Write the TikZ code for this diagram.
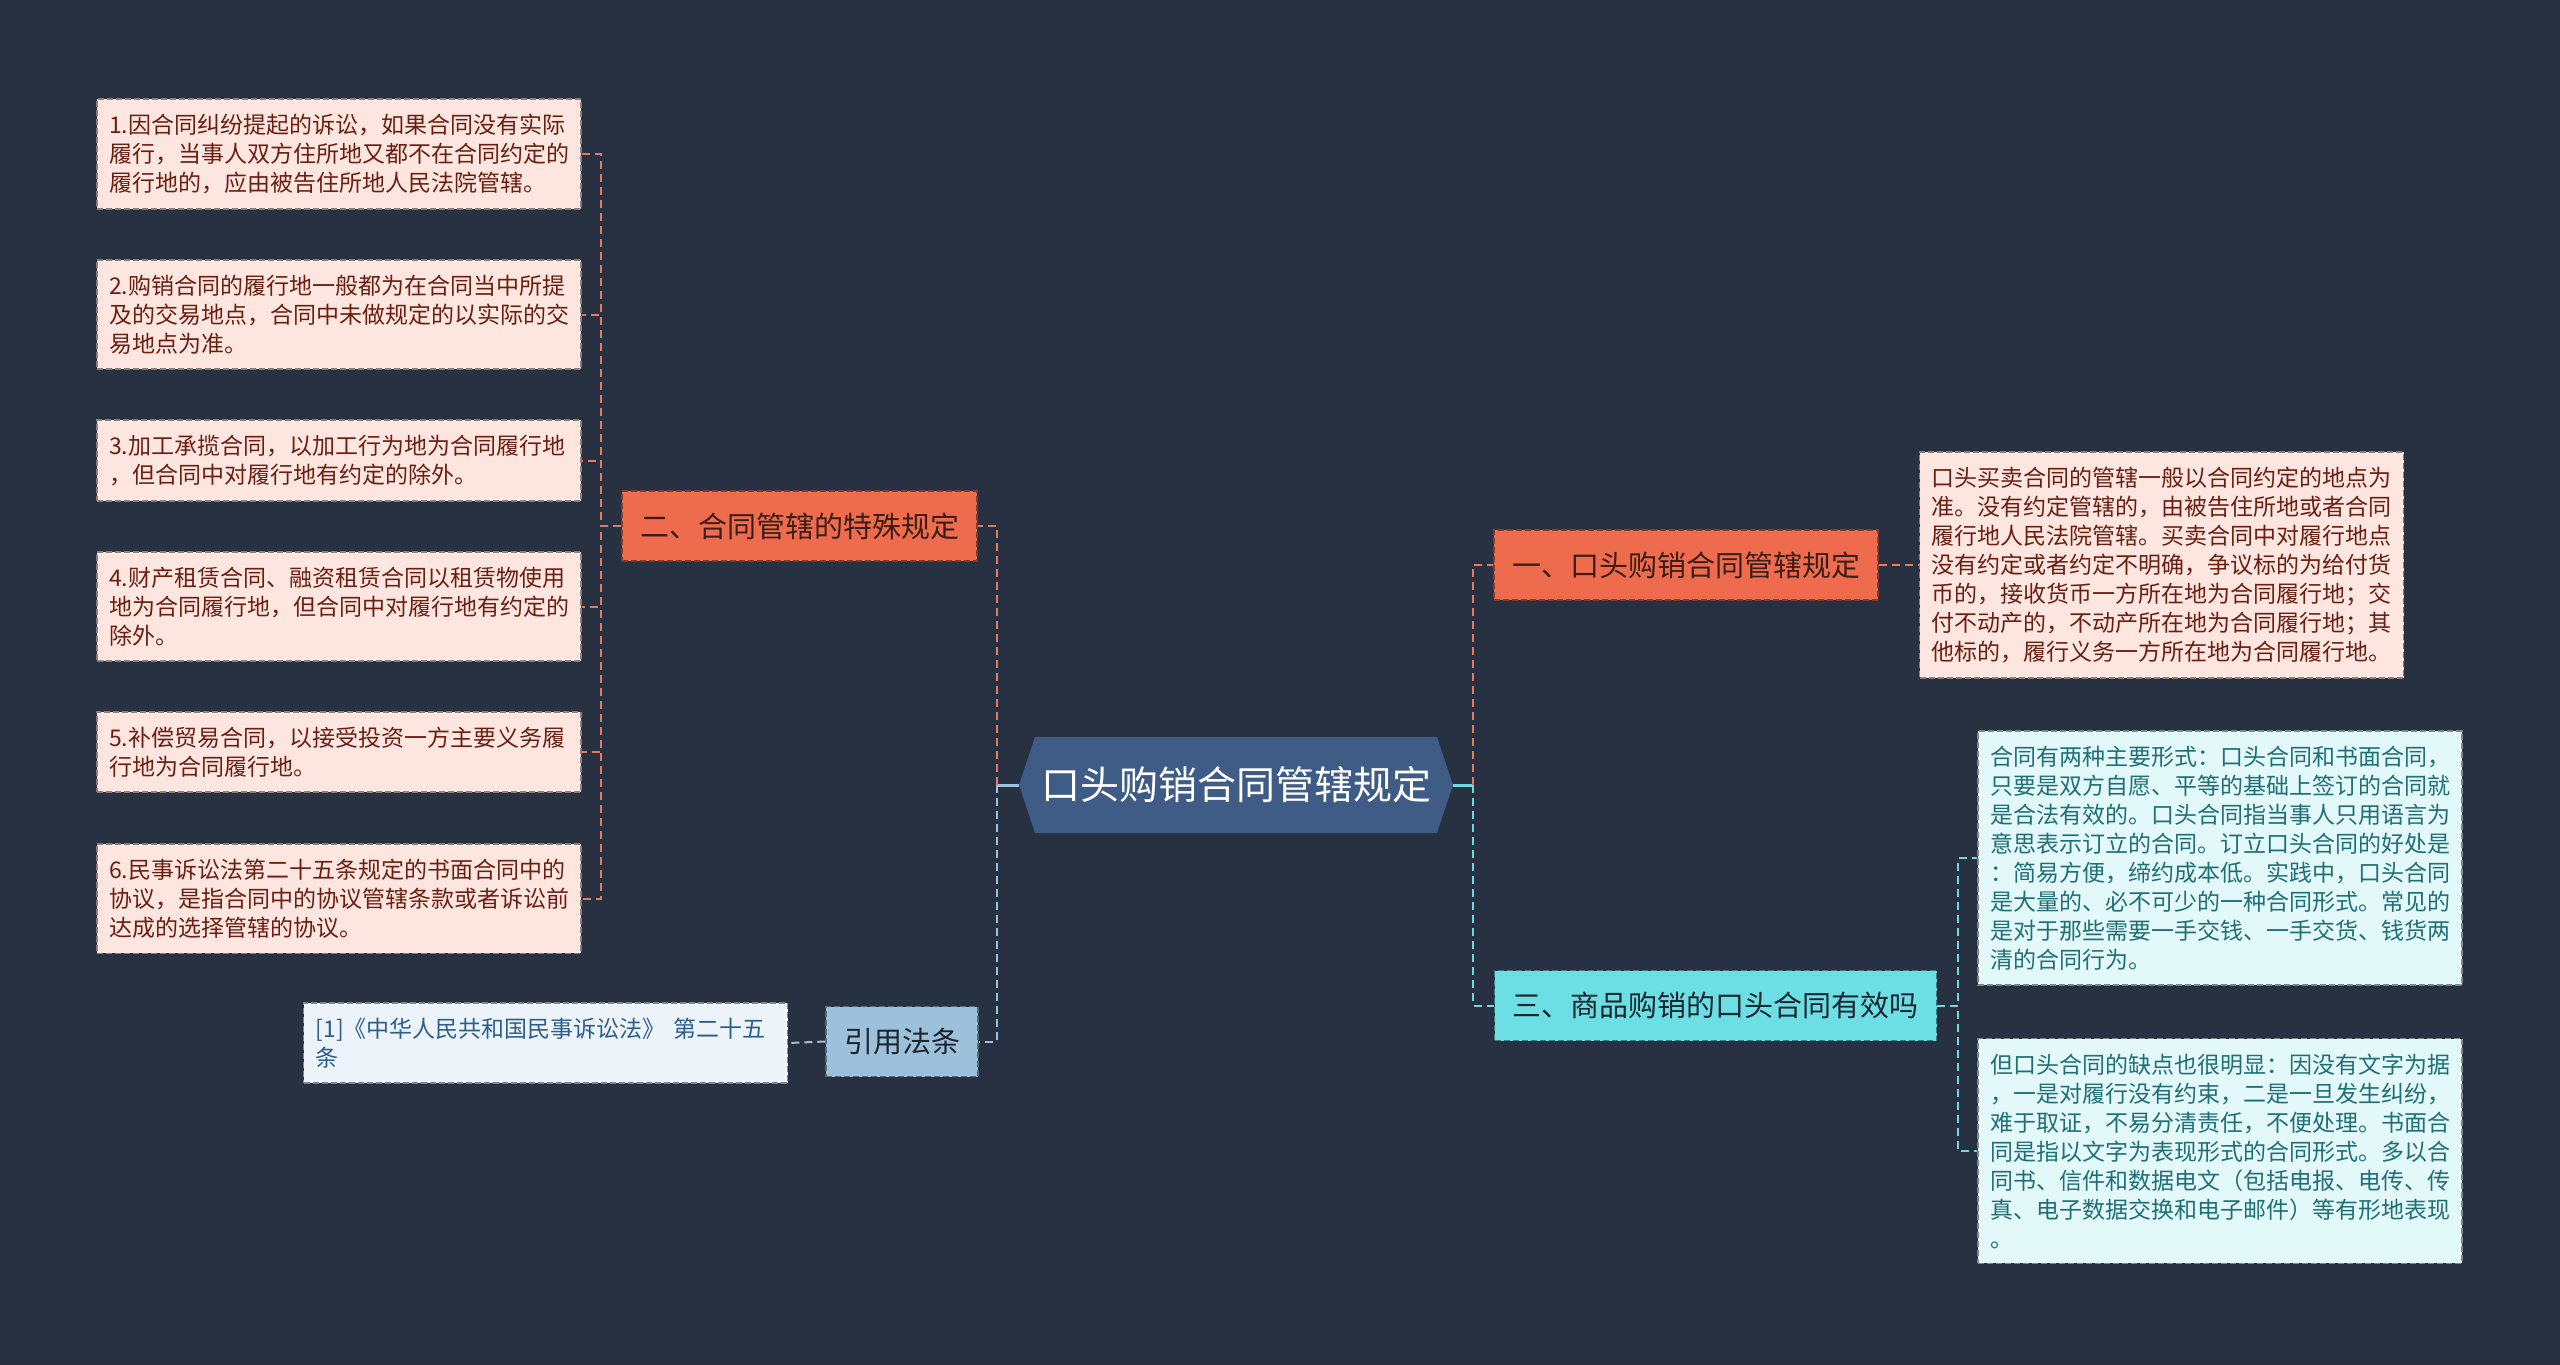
\documentclass[tikz,border=0pt]{standalone}
\usepackage{fontspec}
\setmainfont{Noto Sans CJK SC}
\usetikzlibrary{shapes.symbols, positioning}

\definecolor{bgc}{HTML}{283142}
\definecolor{rootc}{HTML}{3E5C85}
\definecolor{orangec}{HTML}{EE6C4D}
\definecolor{cyanc}{HTML}{6CDFE4}
\definecolor{bluec}{HTML}{9DC0DB}
\definecolor{pinkc}{HTML}{FDE6E0}
\definecolor{icec}{HTML}{E3F8F9}
\definecolor{palec}{HTML}{ECF3F9}
\definecolor{brownc}{HTML}{3B1E17}
\definecolor{inkc}{HTML}{1C2630}
\definecolor{maroonc}{HTML}{6B1F12}
\definecolor{tealc}{HTML}{1F6F77}
\definecolor{navyc}{HTML}{2D5E8C}
\definecolor{orangeln}{HTML}{E57A5E}
\definecolor{cyanln}{HTML}{6FD9E0}
\definecolor{blueln}{HTML}{9EC2DD}

\begin{document}
\begin{tikzpicture}[x=1pt, y=-1pt,
    dashedge/.style={line width=1.5pt, dash pattern=on 6pt off 3pt},
    root/.style={signal, signal to=west and east, signal pointer angle=143,
        fill=rootc, text=white, minimum height=96pt, minimum width=434pt,
        inner xsep=0pt, font=\fontsize{39}{45}\selectfont},
    topic/.style={dashedge, draw=#1!55!black, fill=#1, minimum height=70pt,
        inner xsep=18pt, font=\fontsize{29}{35}\selectfont},
    detail/.style={dashedge, draw=#1!55!black, fill=#1, text width=460pt, align=left,
        inner xsep=12pt, inner ysep=15pt, font=\fontsize{23}{29}\selectfont},
    conn/.style={draw=#1, line width=2pt, dash pattern=on 8pt off 5pt},
    stem/.style={draw=#1, line width=3pt}]

    \fill[bgc] (0,0) rectangle (2560,1365);
    \useasboundingbox (0,0) rectangle (2560,1365);

    \node[root] (root) at (1236,785) {口头购销合同管辖规定};

    % left side
    \node[topic=orangec, text=brownc] (b2) at (799.5,526) {二、合同管辖的特殊规定};
    \node[topic=bluec, text=inkc] (cite) at (902,1041.5) {引用法条};

    \node[detail=pinkc, text=maroonc] (l1) at (339,154) {1.因合同纠纷提起的诉讼，如果合同没有实际\\履行，当事人双方住所地又都不在合同约定的\\履行地的，应由被告住所地人民法院管辖。};
    \node[detail=pinkc, text=maroonc] (l2) at (339,314.5) {2.购销合同的履行地一般都为在合同当中所提\\及的交易地点，合同中未做规定的以实际的交\\易地点为准。};
    \node[detail=pinkc, text=maroonc] (l3) at (339,460.5) {3.加工承揽合同，以加工行为地为合同履行地\\，但合同中对履行地有约定的除外。};
    \node[detail=pinkc, text=maroonc] (l4) at (339,606.5) {4.财产租赁合同、融资租赁合同以租赁物使用\\地为合同履行地，但合同中对履行地有约定的\\除外。};
    \node[detail=pinkc, text=maroonc] (l5) at (339,752) {5.补偿贸易合同，以接受投资一方主要义务履\\行地为合同履行地。};
    \node[detail=pinkc, text=maroonc] (l6) at (339,898.5) {6.民事诉讼法第二十五条规定的书面合同中的\\协议，是指合同中的协议管辖条款或者诉讼前\\达成的选择管辖的协议。};

    \node[detail=palec, text=navyc] (ref) at (545.5,1043) {[1]《中华人民共和国民事诉讼法》 第二十五\\条};

    % right side
    \node[topic=orangec, text=brownc] (b1) at (1686,565) {一、口头购销合同管辖规定};
    \node[topic=cyanc, text=inkc] (b3) at (1715.5,1005.5) {三、商品购销的口头合同有效吗};

    \node[detail=pinkc, text=maroonc] (r1) at (2161.5,565) {口头买卖合同的管辖一般以合同约定的地点为\\准。没有约定管辖的，由被告住所地或者合同\\履行地人民法院管辖。买卖合同中对履行地点\\没有约定或者约定不明确，争议标的为给付货\\币的，接收货币一方所在地为合同履行地；交\\付不动产的，不动产所在地为合同履行地；其\\他标的，履行义务一方所在地为合同履行地。};

    \node[detail=icec, text=tealc] (c1) at (2220,858) {合同有两种主要形式：口头合同和书面合同，\\只要是双方自愿、平等的基础上签订的合同就\\是合法有效的。口头合同指当事人只用语言为\\意思表示订立的合同。订立口头合同的好处是\\：简易方便，缔约成本低。实践中，口头合同\\是大量的、必不可少的一种合同形式。常见的\\是对于那些需要一手交钱、一手交货、钱货两\\清的合同行为。};
    \node[detail=icec, text=tealc] (c2) at (2220,1151) {但口头合同的缺点也很明显：因没有文字为据\\，一是对履行没有约束，二是一旦发生纠纷，\\难于取证，不易分清责任，不便处理。书面合\\同是指以文字为表现形式的合同形式。多以合\\同书、信件和数据电文（包括电报、电传、传\\真、电子数据交换和电子邮件）等有形地表现\\。};

    % connectors
    \coordinate (lj) at ([xshift=-22pt]root.west);
    \coordinate (rj) at ([xshift=20pt]root.east);
    \draw[stem=blueln] (root.west) -- (lj);
    \draw[stem=cyanln] (root.east) -- (rj);
    \draw[conn=orangeln] (lj) |- (b2.east);
    \draw[conn=blueln] (lj) |- (cite.east);
    \draw[conn=orangeln] (rj) |- (b1.west);
    \draw[conn=cyanln] (rj) |- (b3.west);
    \foreach \i in {1,...,6}
        \draw[conn=orangeln] (b2.west) -- ++(-20,0) |- (l\i.east);
    \draw[conn=blueln] (cite.west) -- (ref.east);
    \draw[conn=orangeln] (b1.east) -- (r1.west);
    \foreach \i in {1,2}
        \draw[conn=cyanln] (b3.east) -- ++(21,0) |- (c\i.west);
\end{tikzpicture}
\end{document}
